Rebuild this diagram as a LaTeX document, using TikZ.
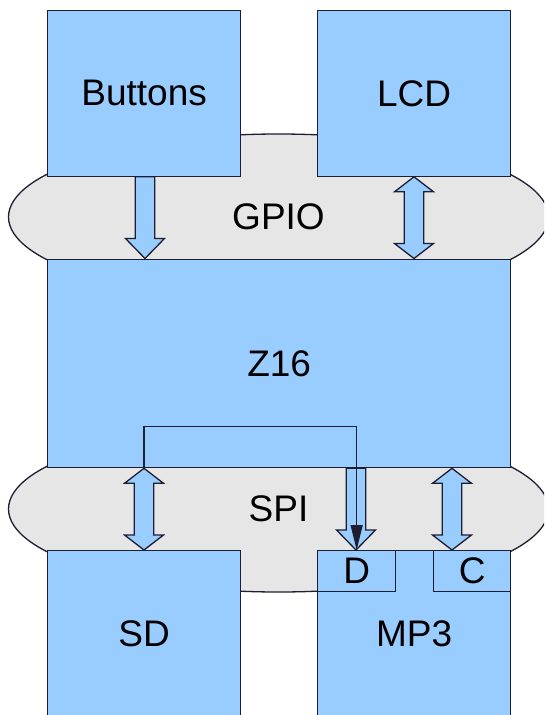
\documentclass[tikz,border=0pt]{standalone}
\usepackage{fontspec}
\setmainfont{Liberation Sans}
\usetikzlibrary{shapes.geometric,arrows.meta,calc}
\definecolor{boxblue}{HTML}{99CCFF}
\definecolor{busgray}{HTML}{E6E6E6}
\definecolor{edgec}{HTML}{1E1E32}
\tikzset{
  base/.style={draw=edgec, line width=1.3pt, inner sep=0pt, text=black,
    font=\fontsize{37}{40}\selectfont},
  box/.style={base, fill=boxblue, rectangle, anchor=north west},
  bus/.style={base, fill=busgray, ellipse, minimum width=540pt, minimum height=166pt},
  blk/.style={draw=edgec, line width=1.3pt, fill=boxblue, line join=miter},
  wire/.style={draw=edgec, line width=1.3pt}
}
% hollow block arrow pointing down: x, from node anchor, to node anchor
\newcommand\blkdown[3]{%
  \path[blk] let \p1=(#2), \p2=(#3) in
    (#1pt-9.75pt,\y1) -- (#1pt+9.75pt,\y1) -- (#1pt+9.75pt,\y2+20pt)
    -- (#1pt+19.5pt,\y2+20pt) -- (#1pt,\y2) -- (#1pt-19.5pt,\y2+20pt)
    -- (#1pt-9.75pt,\y2+20pt) -- cycle;}
% hollow double block arrow
\newcommand\blkdouble[3]{%
  \path[blk] let \p1=(#2), \p2=(#3) in
    (#1pt-9.75pt,\y1-15pt) -- (#1pt-19.5pt,\y1-15pt) -- (#1pt,\y1)
    -- (#1pt+19.5pt,\y1-15pt) -- (#1pt+9.75pt,\y1-15pt)
    -- (#1pt+9.75pt,\y2+15pt) -- (#1pt+19.5pt,\y2+15pt) -- (#1pt,\y2)
    -- (#1pt-19.5pt,\y2+15pt) -- (#1pt-9.75pt,\y2+15pt) -- cycle;}
\begin{document}
\begin{tikzpicture}[x=1pt,y=-1pt]
  \useasboundingbox (0,0) rectangle (544,715);
  \clip (0,0) rectangle (544,715);
  % buses
  \node[bus] (gpio) at (278.5,217) {GPIO};
  \node[bus] (spi) at (278.5,509) {SPI};
  % blocks
  \node[box, minimum width=193pt, minimum height=165.5pt] (buttons) at (47,10) {Buttons};
  \node[box, minimum width=193pt, minimum height=165.5pt] (lcd) at (317,10) {LCD};
  \node[box, minimum width=463pt, minimum height=208.5pt] (z16) at (47,258.5) {Z16};
  \node[box, minimum width=193pt, minimum height=167pt] (sd) at (47,550) {SD};
  \node[box, minimum width=193pt, minimum height=167pt] (mp3) at (317,550) {MP3};
  \node[box, minimum width=78pt, minimum height=41pt] (d) at (317,550) {D};
  \node[box, minimum width=77pt, minimum height=41pt] (c) at (433,550) {C};
  % bus arrows
  \blkdown{145}{buttons.south}{z16.north}
  \blkdouble{414}{lcd.south}{z16.north}
  \blkdouble{144}{z16.south}{sd.north}
  \blkdown{356}{z16.south}{d.north}
  \blkdouble{452}{z16.south}{c.north}
  % data wire
  \coordinate (xl) at (144,0);
  \draw[wire, -{Triangle[length=25pt,width=12pt]}]
    (z16.south -| xl) -- ++(0,-42) -| (d.north);
\end{tikzpicture}
\end{document}
